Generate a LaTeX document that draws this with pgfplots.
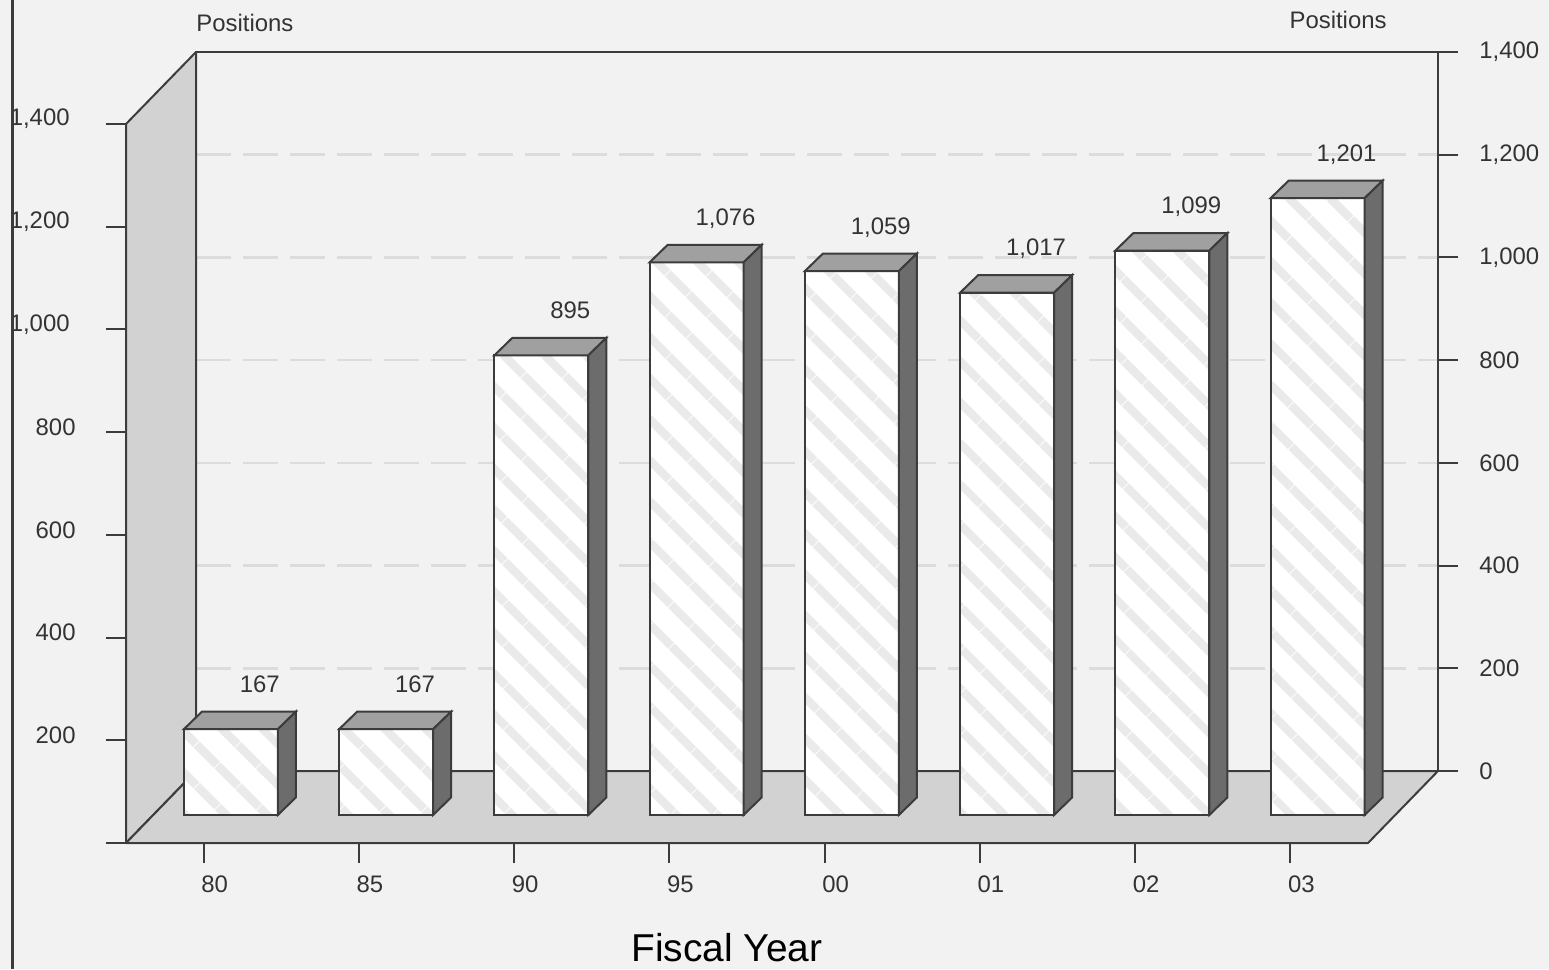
\documentclass[border=0pt]{standalone}
\usepackage{fontspec}
\setmainfont{Liberation Sans}
\usepackage{pgfplots}
\pgfplotsset{compat=1.18}
\usepackage{pgfplotstable}
\usetikzlibrary{patterns.meta}

\newlength\px
\setlength\px{0.5bp}

\definecolor{bg}{HTML}{F2F2F2}
\definecolor{wall}{HTML}{D2D2D2}
\definecolor{capgray}{HTML}{A0A0A0}
\definecolor{sidegray}{HTML}{6C6C6C}
\definecolor{edge}{HTML}{3C3C3C}
\definecolor{gridc}{HTML}{DCDCDC}
\definecolor{stripe}{HTML}{EAEAEA}
\definecolor{txt}{HTML}{333333}

% staff positions by fiscal year
\pgfplotstableread{
idx v
0 167
1 167
2 895
3 1076
4 1059
5 1017
6 1099
7 1201
}\positions

% top and side faces of a bar, drawn from the top centre of its front face
\pgfdeclareplotmark{barcap}{%
  \pgfsetfillcolor{capgray}%
  \pgfpathmoveto{\pgfpoint{-47\px}{0pt}}%
  \pgfpathlineto{\pgfpoint{47\px}{0pt}}%
  \pgfpathlineto{\pgfpoint{65\px}{17.5\px}}%
  \pgfpathlineto{\pgfpoint{-29\px}{17.5\px}}%
  \pgfpathclose
  \pgfusepath{fill,stroke}%
  \pgfsetfillcolor{sidegray}%
  \pgfpathmoveto{\pgfpoint{47\px}{0pt}}%
  \pgfpathlineto{\pgfpoint{65\px}{17.5\px}}%
  \pgfpathlineto{\pgfpoint{65\px}{(17.5-\hpx)*\px}}%
  \pgfpathlineto{\pgfpoint{47\px}{-\hpx*\px}}%
  \pgfpathclose
  \pgfusepath{fill,stroke}%
}

\newcommand\wide[1]{\makebox[0pt][r]{#1\kern5\px}}

\pgfplotsset{
  chartbase/.style={
    anchor=south west,
    x=155.25\px, y=0.51357\px,
    xmin=-0.5, xmax=7.5, ymin=0, ymax=1400,
    /pgf/number format/assume math mode=true,
    /pgf/number format/1000 sep={,},
    tick align=outside,
    major tick length=20\px,
    tick style={edge, line width=2\px},
    axis line style={edge, line width=2\px},
    ticklabel style={font=\fontsize{12}{14}\selectfont, text=txt},
  },
}

\begin{document}
\begin{tikzpicture}[x=\px,y=\px]
\fill[bg] (0,0) rectangle (1549,969);

% back wall with the right-hand scale
\begin{axis}[chartbase,
  at={(196\px,198\px)},
  xtick=\empty,
  ytick={0,200,...,1400},
  ytick pos=right,
  yticklabel style={anchor=west, inner sep=0pt, xshift=21\px},
  ymajorgrids,
  grid style={gridc, line width=2.5\px, dash pattern=on 35\px off 12\px},
]
\addplot[draw=none] coordinates {(0,0)};
\end{axis}

% left wall and floor
\filldraw[wall, draw=edge, line width=2\px, line join=round]
  (126,126) -- (126,845) -- (196,917) -- (196,198) -- cycle;
\filldraw[wall, draw=edge, line width=2\px, line join=round]
  (126,126) -- (1368,126) -- (1438,198) -- (196,198) -- cycle;

% bars
\begin{axis}[chartbase,
  at={(153.2\px,154\px)},
  hide axis, clip=false,
]
\addplot[only marks, mark=barcap, mark options={draw=edge, line width=2\px},
  visualization depends on={\thisrow{v}*0.51357 \as \hpx}]
  table[x=idx, y=v] {\positions};
\addplot[ybar, bar width=94\px, bar shift=0pt, draw=none, fill=white,
  postaction={pattern={Lines[angle=-45, distance=15bp, line width=4.5bp]}, pattern color=stripe}]
  table[x=idx, y=v] {\positions};
\addplot[ybar, bar width=94\px, bar shift=0pt, draw=edge, line width=2\px, fill=none,
  nodes near coords,
  every node near coord/.append style={anchor=base, inner sep=0pt,
    xshift=29\px, yshift=37\px, font=\fontsize{12}{14}\selectfont, text=txt}]
  table[x=idx, y=v] {\positions};
\end{axis}

% front scale and category axis
\begin{axis}[chartbase,
  at={(126\px,126\px)},
  axis x line*=bottom, axis y line*=left,
  xtick={0,...,7},
  xticklabels={80,85,90,95,00,01,02,03},
  xticklabel style={anchor=north, inner sep=0pt, xshift=11\px, yshift=-12\px},
  ytick={0,200,...,1400},
  yticklabels={,200,400,600,800,\wide{1,000},\wide{1,200},\wide{1,400}},
  yticklabel style={anchor=east, inner sep=0pt, xshift=-30\px, yshift=5\px},
]
\addplot[draw=none] coordinates {(0,0)};
\end{axis}

\node[anchor=base west, inner sep=0pt, text=txt, font=\fontsize{12}{14}\selectfont] at (196,937) {Positions};
\node[anchor=base east, inner sep=0pt, text=txt, font=\fontsize{12}{14}\selectfont] at (1387,940) {Positions};
\node[anchor=base, inner sep=0pt, text=black, font=\fontsize{19.5}{22}\selectfont] at (727,8) {Fiscal Year};

\draw[edge, line width=3\px] (12,0) -- (12,969);

\pgfresetboundingbox
\path[use as bounding box] (0,0) rectangle (1549,969);
\end{tikzpicture}
\end{document}
